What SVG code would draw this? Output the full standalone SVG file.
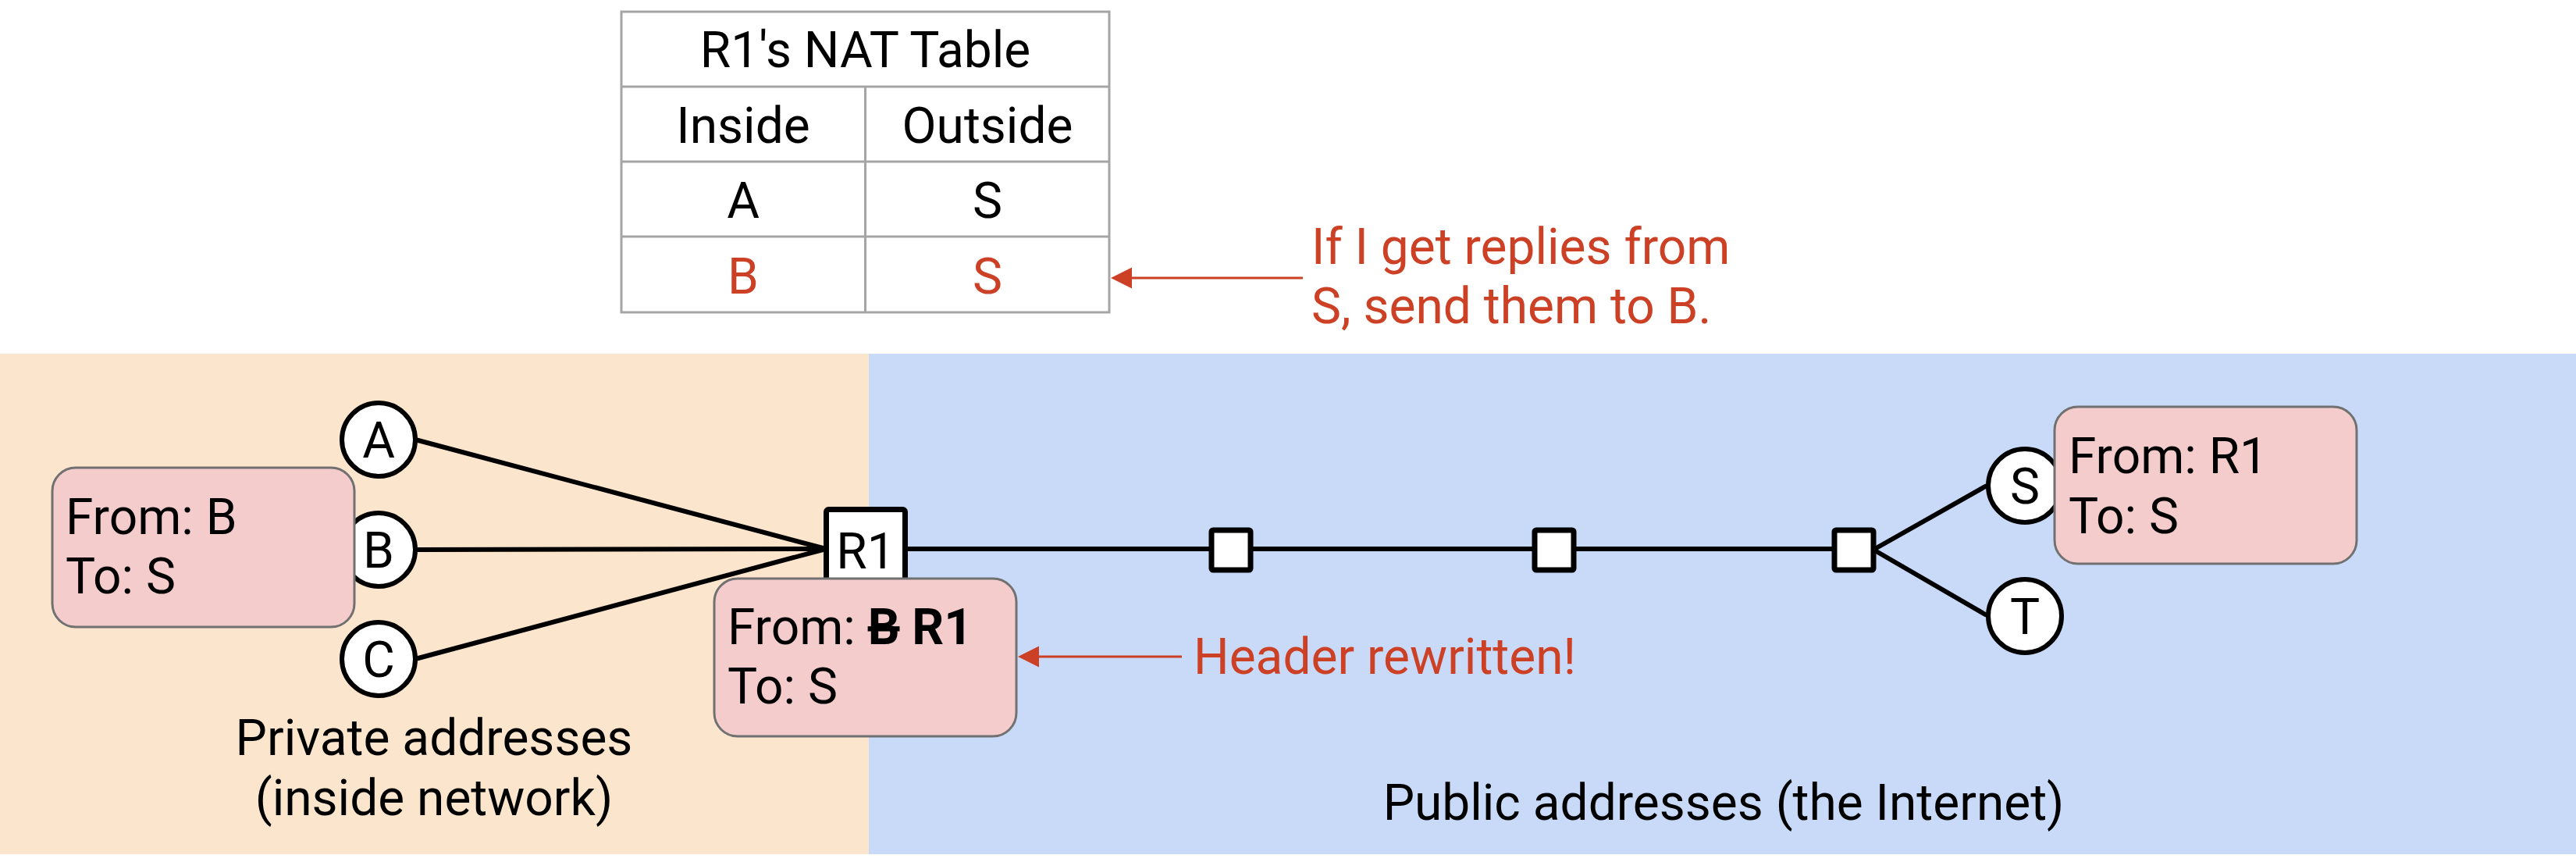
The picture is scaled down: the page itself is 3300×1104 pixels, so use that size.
<svg xmlns="http://www.w3.org/2000/svg" width="3300" height="1104" viewBox="0 0 3300 1104">
<style>
text{font-family:Roboto,"Liberation Sans",sans-serif;font-size:64px;fill:#000}
.red{fill:#cc4125}
.mid{text-anchor:middle}
.cell{fill:#fff;stroke:#a5a5a5;stroke-width:3}
.host{fill:#fff;stroke:#000;stroke-width:6}
.router{fill:#fff;stroke:#000;stroke-width:7}
.pkt{fill:#f4cccc;stroke:#717171;stroke-width:3}
.link{stroke:#000;stroke-width:6;fill:none}
.note{stroke:#cc4125;stroke-width:3;fill:none;marker-end:url(#ah)}
.b{font-weight:bold}
</style>
<defs>
<marker id="ah" markerUnits="userSpaceOnUse" markerWidth="28" markerHeight="28" refX="0" refY="13.5" orient="auto">
<path d="M0,0 L27,13.5 L0,27 z" fill="#cc4125"/>
</marker>
</defs>
<rect id="private-zone" x="0" y="453" width="1113" height="641" fill="#fce5cd"/>
<rect id="public-zone" x="1113" y="453" width="2187" height="641" fill="#c9daf8"/>
<g id="nat-table">
<rect class="cell" x="796" y="15" width="625" height="385"/>
<line class="cell" x1="796" y1="111" x2="1421" y2="111"/>
<line class="cell" x1="796" y1="207" x2="1421" y2="207"/>
<line class="cell" x1="796" y1="303" x2="1421" y2="303"/>
<line class="cell" x1="1108.5" y1="111" x2="1108.5" y2="400"/>
<text class="mid" x="1108.5" y="86">R1's NAT Table</text>
<text class="mid" x="952" y="183">Inside</text>
<text class="mid" x="1265" y="183">Outside</text>
<text class="mid" x="952" y="279">A</text>
<text class="mid" x="1265" y="279">S</text>
<text class="mid red" x="952" y="376">B</text>
<text class="mid red" x="1265" y="376">S</text>
</g>
<g id="connectors">
<line class="link" x1="532" y1="563" x2="1058" y2="703"/>
<line class="link" x1="532" y1="704" x2="1058" y2="703"/>
<line class="link" x1="532" y1="844" x2="1058" y2="703"/>
<line class="link" x1="1160" y1="703" x2="2375" y2="703"/>
<line class="link" x1="2400" y1="704" x2="2545" y2="622"/>
<line class="link" x1="2400" y1="704" x2="2545" y2="788"/>
<line class="note" x1="1669" y1="356" x2="1450" y2="356"/>
<line class="note" x1="1514" y1="841" x2="1331" y2="841"/>
</g>
<g id="node-A"><circle class="host" cx="485" cy="563" r="47"/><text class="mid" x="485" y="586">A</text></g>
<g id="node-B"><circle class="host" cx="485" cy="704" r="47"/><text class="mid" x="485" y="727">B</text></g>
<g id="node-C"><circle class="host" cx="485" cy="844" r="47"/><text class="mid" x="485" y="867">C</text></g>
<g id="node-R1"><rect class="router" x="1058.5" y="652.5" width="101" height="100" rx="3"/><text class="mid" x="1109" y="728">R1</text></g>
<g id="node-R2"><rect class="router" x="1552" y="679" width="50" height="51" rx="2"/></g>
<g id="node-R3"><rect class="router" x="1966" y="679" width="50" height="51" rx="2"/></g>
<g id="node-R4"><rect class="router" x="2350" y="679" width="50" height="51" rx="2"/></g>
<g id="node-S"><circle class="host" cx="2594" cy="622" r="47"/><text class="mid" x="2594" y="645">S</text></g>
<g id="node-T"><circle class="host" cx="2594" cy="789" r="47"/><text class="mid" x="2594" y="812">T</text></g>
<g id="packet-B"><rect class="pkt" x="67" y="599" width="387" height="204" rx="30"/><text x="84" y="684">From: B</text><text x="84" y="760">To: S</text></g>
<g id="packet-R1"><rect class="pkt" x="915" y="741" width="387" height="202" rx="30"/><text x="932" y="825">From: <tspan class="b" text-decoration="line-through">B</tspan> <tspan class="b">R1</tspan></text><text x="932" y="901">To: S</text></g>
<g id="packet-S"><rect class="pkt" x="2632" y="521" width="387" height="201" rx="30"/><text x="2650" y="606">From: R1</text><text x="2650" y="683">To: S</text></g>
<g id="note-table"><text class="red" x="1680" y="338">If I get replies from</text><text class="red" x="1680" y="414">S, send them to B.</text></g>
<g id="note-header"><text class="red" x="1529" y="863">Header rewritten!</text></g>
<g id="zone-labels">
<text class="mid" x="556" y="967">Private addresses</text>
<text class="mid" x="556" y="1044">(inside network)</text>
<text class="mid" x="2208" y="1050">Public addresses (the Internet)</text>
</g>
</svg>
